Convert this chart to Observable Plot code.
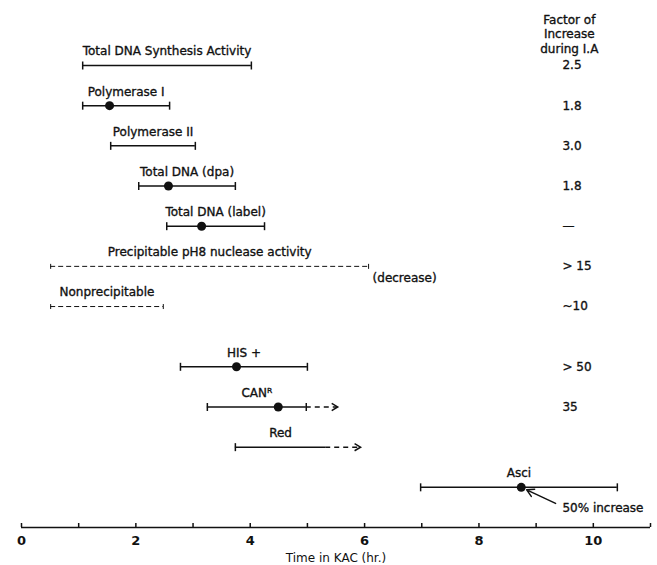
<!DOCTYPE html>
<html><head><meta charset="utf-8">
<script src="https://cdn.jsdelivr.net/npm/d3@7"></script>
<script src="https://cdn.jsdelivr.net/npm/@observablehq/plot@0.6"></script>
<style>body{margin:0;background:#fff}</style>
</head><body><div id="chart"></div>
<script>
// ---- data ----
const events = ["Total DNA Synthesis Activity", "Polymerase I", "Polymerase II", "Total DNA (dpa)", "Total DNA (label)",
  "Precipitable pH8 nuclease activity", "Nonprecipitable", "HIS +", "CANᴿ", "Red", "Asci"];
const groups = ["biochemical", "biochemical", "biochemical", "biochemical", "biochemical", "biochemical", "biochemical",
  "genetic", "genetic", "genetic", "genetic"];
const startHr = [1.07, 1.07, 1.56, 2.05, 2.54, 0.51, 0.51, 2.78, 3.25, 3.74, 6.98];
const endHr   = [4.02, 2.59, 3.04, 3.74, 4.25, 6.07, 2.48, 5.00, 4.98, 5.32, 10.42];
const peakHr  = [null, 1.54, null, 2.57, 3.15, null, null, 3.76, 4.49, null, 8.74];
const continuesToHr = [null, null, null, null, null, null, null, null, 5.53, 5.93, null];
const endMeasured = [true, true, true, true, true, true, true, true, true, false, true];
const nuclease = [false, false, false, false, false, true, true, false, false, false, false];
const factors = ["2.5", "1.8", "3.0", "1.8", "—", "> 15", "~10", "> 50", "35", "", ""];
const factorHeader = "Factor of\nIncrease\nduring I.A";
const xTicks = [0, 1, 2, 3, 4, 5, 6, 7, 8, 9, 10, 11];
const xTickLabels = ["0", "", "2", "", "4", "", "6", "", "8", "", "10", ""];
const xLabel = "Time in KAC (hr.)";
const decreaseNote = {event: "Precipitable pH8 nuclease activity", text: "(decrease)"};
const asciNote = {event: "Asci", text: "50% increase", textHr: 9.46, textRowOffset: 0.52, tailHr: 9.34, tailRowOffset: 0.40};

// ---- build table ----
const rows = events.map((name, i) => ({
  name, row: i + (groups[i] === "genetic" ? 0.5 : 0),
  start: startHr[i], end: endHr[i], peak: peakHr[i], cont: continuesToHr[i],
  closed: endMeasured[i], nuclease: nuclease[i], factor: factors[i]
}));
const solid = rows.filter(d => !d.nuclease);
const dashed = rows.filter(d => d.nuclease);
const cont = rows.filter(d => d.cont != null);
const capsSolid = solid.flatMap(d => [{x: d.start, y: d.row}, ...(d.closed ? [{x: d.end, y: d.row}] : [])]);
const capsDashed = dashed.flatMap(d => [{x: d.start, y: d.row}, {x: d.end, y: d.row}]);
const peaks = rows.filter(d => d.peak != null);
const factorHr = 9.46;
const rowOf = name => rows.find(d => d.name === name);
const dec = rowOf(decreaseNote.event);
const asci = rowOf(asciNote.event);

const cap = {draw(ctx, size) { const h = Math.sqrt(size / Math.PI); ctx.moveTo(0, -h); ctx.lineTo(0, h); }};
const chevron = {draw(ctx, size) { const h = Math.sqrt(size / Math.PI); ctx.moveTo(-h, -h * 0.6); ctx.lineTo(0, 0); ctx.lineTo(-h, h * 0.6); }};
const ink = "#111";
const heavy = {stroke: ink, strokeWidth: 0.35};

const chart = Plot.plot({
  width: 657, height: 565,
  marginLeft: 21, marginRight: 7, marginTop: 65, marginBottom: 38,
  style: {fontFamily: "DejaVu Sans", fontSize: "12px", background: "white", color: ink},
  x: {domain: [0, 11]},
  y: {domain: [0, 11.5], reverse: true, axis: null},
  marks: [
    Plot.ruleY(solid, {y: "row", x1: "start", x2: "end", stroke: ink, strokeWidth: 1.5}),
    Plot.ruleY(dashed, {y: "row", x1: "start", x2: "end", stroke: ink, strokeWidth: 1, strokeDasharray: "5,3"}),
    Plot.ruleY(cont, {y: "row", x1: "end", x2: "cont", stroke: ink, strokeWidth: 1.5, strokeDasharray: "5,4"}),
    Plot.dot(cont, {x: "cont", y: "row", symbol: chevron, r: 6, stroke: ink, strokeWidth: 1.5, fill: "none"}),
    Plot.dot(capsSolid, {x: "x", y: "y", symbol: cap, r: 4, stroke: ink, strokeWidth: 1.5, fill: "none"}),
    Plot.dot(capsDashed, {x: "x", y: "y", symbol: cap, r: 2.5, stroke: ink, strokeWidth: 1, fill: "none"}),
    Plot.dot(peaks, {x: "peak", y: "row", r: 4.5, fill: ink, stroke: "none"}),
    Plot.text(rows, {x: d => (d.start + d.end) / 2, y: "row", text: "name", dy: -14, fill: ink, ...heavy}),
    Plot.text(rows, {x: factorHr, y: "row", text: "factor", textAnchor: "start", fill: ink, ...heavy}),
    Plot.text([factorHeader], {x: factorHr + 0.12, y: 0, text: d => d, lineAnchor: "bottom", dy: -13, lineHeight: 1.2, fill: ink, ...heavy}),
    Plot.text([decreaseNote], {x: dec.end, y: dec.row, text: "text", textAnchor: "start", dx: 4, dy: 12, fill: ink, ...heavy}),
    Plot.text([asciNote], {x: "textHr", y: d => asci.row + d.textRowOffset, text: "text", textAnchor: "start", fill: ink, ...heavy}),
    Plot.arrow([asciNote], {x1: "tailHr", y1: d => asci.row + d.tailRowOffset, x2: asci.peak, y2: asci.row, stroke: ink, strokeWidth: 1.5, insetEnd: 6, headLength: 8}),
    Plot.ruleY([11.5], {x1: 0, x2: 11, stroke: ink, strokeWidth: 1.5}),
    Plot.axisX({ticks: xTicks, tickSize: -4, tickPadding: 12, strokeWidth: 1.5, fontSize: 13, fontWeight: "bold",
      tickFormat: d => xTickLabels[xTicks.indexOf(d)], label: null}),
    Plot.axisX({ticks: [], label: xLabel, labelAnchor: "center", labelArrow: "none", labelOffset: 34, ...heavy})
  ]
});
document.getElementById("chart").appendChild(chart);
</script>
</body></html>
